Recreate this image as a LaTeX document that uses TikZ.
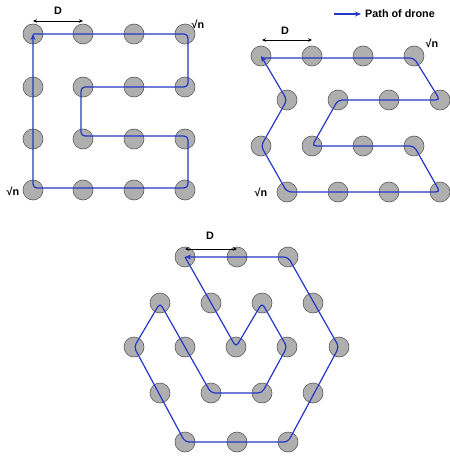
\documentclass[tikz,border=0pt]{standalone}
\usepackage{fontspec}
\setmainfont{Liberation Sans}
\usetikzlibrary{arrows.meta}
\definecolor{dotfill}{RGB}{175,175,175}
\definecolor{dotline}{RGB}{90,90,90}
\definecolor{pathblue}{RGB}{35,55,200}
\tikzset{
  dot/.style={circle,draw=dotline,fill=dotfill,line width=0.6pt,minimum size=20pt,inner sep=0pt},
  route/.style={draw=pathblue,line width=1.2pt,rounded corners=4pt,-{Stealth[length=6pt,width=5pt]}},
  dim/.style={draw=black,line width=0.7pt,{Stealth[length=4pt,width=3.5pt]}-{Stealth[length=4pt,width=3.5pt]}},
  lbl/.style={font=\bfseries\fontsize{10.8}{12}\selectfont,inner sep=0pt}
}
\begin{document}
\begin{tikzpicture}[x=1pt,y=-1pt]
\useasboundingbox (0,0) rectangle (449,457);
% grid 1
\foreach \r/\y in {1/34,2/87,3/139,4/190}{
  \foreach \c/\x in {1/33,2/83,3/134,4/185}{
    \node[dot] (a\r\c) at (\x,\y) {};
  }
}
\draw[route] (a11.center) -- ([xshift=3pt]a14.center) -- ([xshift=3pt]a24.center) -- ([xshift=-2pt]a22.center)
  -- ([xshift=-2pt,yshift=3pt]a32.center) -- ([xshift=3pt,yshift=3pt]a34.center) -- ([xshift=3pt,yshift=2pt]a44.center)
  -- ([yshift=2pt]a41.center) -- (a11.center);
\coordinate (d1a) at (33,21); \coordinate (d1b) at (83,21);
\draw[dim] (d1a) -- (d1b);
\node[lbl] (D1) at (58,11) {D};
\node[lbl] (n1a) at (198,24) {√n};
\node[lbl] (n1b) at (13,191) {√n};
% grid 2
\foreach \r/\y/\o in {1/56/0,2/100/26,3/146/0,4/192/26}{
  \foreach \c/\x in {1/261,2/312,3/363,4/414}{
    \node[dot] (b\r\c) at (\x+\o,\y) {};
  }
}
\draw[route] ([yshift=-2pt]b11.center) -- ([yshift=-2pt]b14.center) -- (b24.center) -- (b22.center)
  -- (b32.center) -- (b34.center) -- (b44.center) -- (b41.center) -- (b31.center) -- (b21.center) -- (b11.center);
\coordinate (d2a) at (262,40); \coordinate (d2b) at (312,40);
\draw[dim] (d2a) -- (d2b);
\node[lbl] (D2) at (285,31) {D};
\node[lbl] (n2a) at (432,43) {√n};
\node[lbl] (n2b) at (261,192) {√n};
% legend
\coordinate (la) at (334,14); \coordinate (lb) at (361,14);
\draw[draw=pathblue,line width=1.2pt,-{Stealth[length=6pt,width=5pt]}] (la) -- (lb);
\node[lbl,anchor=west] (leg) at (365,14) {Path of drone};
% grid 3 (hexagon)
\foreach \c/\x in {1/185,2/237,3/288}{ \node[dot] (h1\c) at (\x,257) {}; }
\foreach \c/\x in {1/160,2/211,3/262,4/313}{ \node[dot] (h2\c) at (\x,303) {}; }
\foreach \c/\x in {1/134,2/185,3/236,4/287,5/339}{ \node[dot] (h3\c) at (\x,347) {}; }
\foreach \c/\x in {1/160,2/211,3/262,4/313}{ \node[dot] (h4\c) at (\x,393) {}; }
\foreach \c/\x in {1/185,2/237,3/288}{ \node[dot] (h5\c) at (\x,442) {}; }
\draw[route] (h11.center) -- (h33.center) -- (h23.center) -- (h34.center) -- (h43.center) -- (h42.center)
  -- (h21.center) -- (h31.center) -- (h51.center) -- (h53.center) -- (h35.center) -- (h13.center) -- (h11.center);
\coordinate (d3a) at (185,249); \coordinate (d3b) at (237,249);
\draw[dim] (d3a) -- (d3b);
\node[lbl] (D3) at (210,236) {D};
\end{tikzpicture}
\end{document}
